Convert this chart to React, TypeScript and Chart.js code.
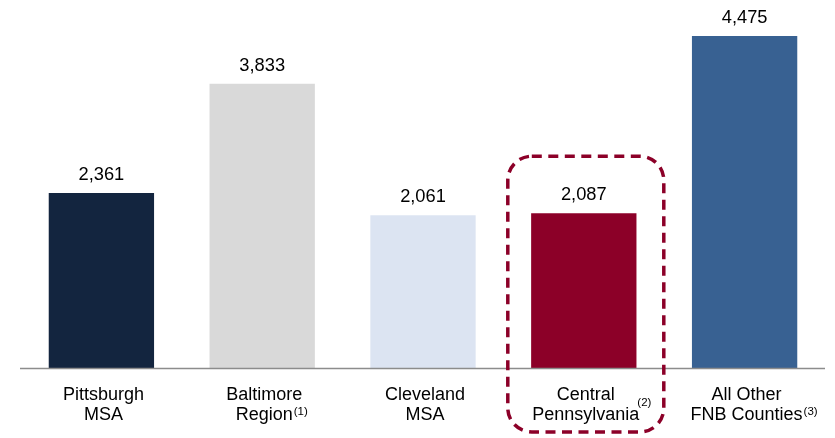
import React, { useEffect, useRef } from "react";
import { Chart, registerables } from "chart.js";

Chart.register(...registerables);

const categories: string[][] = [
  ["Pittsburgh", "MSA"],
  ["Baltimore", "Region"],
  ["Cleveland", "MSA"],
  ["Central", "Pennsylvania"],
  ["All Other", "FNB Counties"],
];
const footnotes: string[] = ["", "(1)", "", "(2)", "(3)"];
const values: number[] = [2361, 3833, 2061, 2087, 4475];
const colors: string[] = ["#13253F", "#D9D9D9", "#DCE4F2", "#8C0028", "#386192"];
const highlightIndex = 3;

const FONT = "Arial, 'Liberation Sans', sans-serif";

const labelPlugin = {
  id: "customLabels",
  afterDraw(chart: any) {
    const ctx = chart.ctx;
    const xs = chart.scales.x;
    const ys = chart.scales.y;
    const area = chart.chartArea;
    ctx.save();
    // baseline
    ctx.strokeStyle = "#8C8C8C";
    ctx.lineWidth = 1.5;
    ctx.beginPath();
    ctx.moveTo(area.left - 1, area.bottom + 0.5);
    ctx.lineTo(area.right, area.bottom + 0.5);
    ctx.stroke();

    ctx.fillStyle = "#000";
    values.forEach((v, i) => {
      const x = xs.getPixelForValue(i);
      const y = ys.getPixelForValue(v);
      ctx.font = `18.3px ${FONT}`;
      ctx.textAlign = "center";
      ctx.textBaseline = "alphabetic";
      ctx.fillText(v.toLocaleString("en-US"), x, y - 13);

      const lines = categories[i];
      lines.forEach((ln, j) => {
        ctx.textAlign = "center";
        ctx.font = `18px ${FONT}`;
        ctx.fillText(ln, x + 2, area.bottom + 32 + j * 20);
      });
      const fn = footnotes[i];
      if (fn) {
        const last = lines[lines.length - 1];
        ctx.font = `18px ${FONT}`;
        const w = ctx.measureText(last).width;
        const endX = x + 2 + w / 2;
        ctx.font = `11.5px ${FONT}`;
        ctx.textAlign = "left";
        const high = i === highlightIndex;
        ctx.fillText(fn, high ? endX - 2 : endX + 1, area.bottom + 52 - (high ? 14 : 5));
      }
    });

    // dashed highlight box
    const cx = xs.getPixelForValue(highlightIndex);
    const topY = ys.getPixelForValue(values[highlightIndex]) - 57;
    const left = cx - 76;
    const right = cx + 80;
    const bottom = chart.height - 6;
    const r = 24;
    ctx.strokeStyle = "#8C0028";
    ctx.lineWidth = 3.5;
    ctx.setLineDash([10, 6.5]);
    ctx.beginPath();
    ctx.moveTo(left + r, topY);
    ctx.lineTo(right - r, topY);
    ctx.arcTo(right, topY, right, topY + r, r);
    ctx.lineTo(right, bottom - r);
    ctx.arcTo(right, bottom, right - r, bottom, r);
    ctx.lineTo(left + r, bottom);
    ctx.arcTo(left, bottom, left, bottom - r, r);
    ctx.lineTo(left, topY + r);
    ctx.arcTo(left, topY, left + r, topY, r);
    ctx.closePath();
    ctx.stroke();
    ctx.restore();
  },
};

export default function App() {
  const ref = useRef<HTMLCanvasElement>(null);
  useEffect(() => {
    if (!ref.current) return;
    const chart = new Chart(ref.current, {
      type: "bar",
      data: {
        labels: categories.map((c) => c.join(" ")),
        datasets: [
          {
            data: values,
            backgroundColor: colors,
            borderWidth: 0,
            barPercentage: 0.655,
            categoryPercentage: 1,
          },
        ],
      },
      options: {
        responsive: false,
        animation: false,
        events: [],
        layout: { padding: { left: 21, right: 10, top: 12, bottom: 70 } },
        plugins: { legend: { display: false }, tooltip: { enabled: false } },
        scales: {
          x: { display: false },
          y: { display: false, min: 0, max: 4800 },
        },
      },
      plugins: [labelPlugin],
    });
    return () => chart.destroy();
  }, []);
  return (
    <div style={{ position: "fixed", left: 0, top: 0, width: 835, height: 438, background: "#fff" }}>
      <canvas ref={ref} width={835} height={438} />
    </div>
  );
}
